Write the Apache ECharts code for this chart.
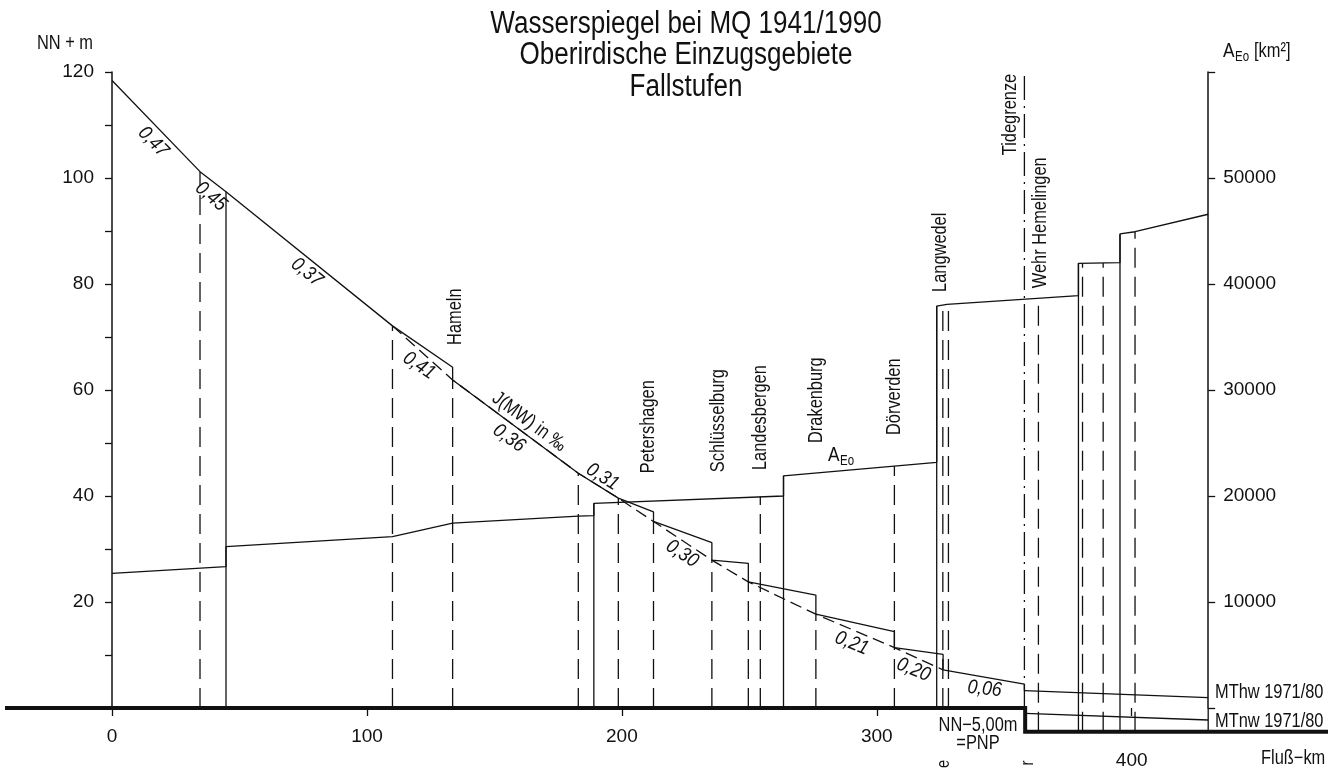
<!DOCTYPE html>
<html>
<head>
<meta charset="utf-8">
<title>Wasserspiegel bei MQ 1941/1990</title>
<script src="https://cdn.jsdelivr.net/npm/echarts@6/dist/echarts.min.js"></script>
<style>
  html, body { margin: 0; padding: 0; background: #fff; }
  #main { width: 1344px; height: 771px; }
</style>
</head>
<body>
<div id="main"></div>
<script>
// Flusslängsschnitt Weser: Wasserspiegel (NN + m) und Einzugsgebiet A_Eo (km²)

// Wasserspiegel bei MQ, mit Stufen an den Wehren (km / NN+m)
const mqKm = [0, 34.5, 44.7, 110.0, 133.6, 133.6, 182.9, 198.6, 212.4, 212.4, 235.3, 235.3, 249.6, 249.6, 276.1, 276.1, 306.9, 306.9, 326.0, 326.0, 357.9, 357.9];
const mqM  = [118.4, 101.2, 97.4, 72.1, 64.3, 61.9, 44.3, 39.6, 37.0, 35.2, 31.2, 27.9, 27.3, 23.8, 21.3, 17.7, 14.4, 11.4, 10.1, 7.2, 4.5, 3.26];

// mittleres Gefälle (gestrichelt) über die Wehrfußpunkte
const meanKm = [110.0, 133.6, 182.9, 198.6, 212.4, 235.3, 249.6, 276.1, 306.9, 326.0];
const meanM  = [72.1, 61.9, 44.3, 39.6, 35.2, 27.9, 23.8, 17.7, 11.4, 7.2];

// Tidebereich
const mthwKm = [357.9, 430];
const mthwM  = [3.26, 1.94];
const mtnwKm = [358.2, 430];
const mtnwM  = [-1.0, -2.26];

// Bezugslinie NN / PNP
const baseKm = [-42, 358.2, 358.2, 477];
const baseM  = [0, 0, -4.5, -4.5];

// oberirdisches Einzugsgebiet A_Eo (km²)
const aeoKm  = [0, 44.7, 44.7, 110.0, 133.6, 182.9, 189.0, 189.0, 263.4, 263.4, 323.5, 323.5, 327.5, 379.1, 379.1, 395.4, 395.4, 401.3, 430];
const aeoVal = [12700, 13330, 15220, 16160, 17450, 18110, 18140, 19310, 20000, 21890, 23180, 37920, 38080, 38900, 41950, 42010, 44720, 44930, 46580];

// senkrechte Linien (km, Oberkante NN+m)
const solidKm  = [44.7, 189.0, 263.4, 323.5, 379.1, 395.4, 430];
const solidTop = [97.4, 38.6, 43.8, 75.85, 83.9, 89.4, 0];
const dashKm   = [34.5, 110.0, 133.6, 182.9, 198.6, 212.4, 235.3, 249.6, 254.3, 276.1, 306.9, 325.9, 328.1, 363.4, 380.7, 388.8, 401.3];
const dashTop  = [101.2, 72.1, 61.9, 44.3, 39.6, 35.2, 27.9, 23.8, 39.9, 17.7, 45.66, 76.0, 76.2, 77.1, 83.9, 83.95, 89.9];
const tideKm   = [357.9];
const tideTop  = [120];

// Orte
const stationNames = ['Hameln', 'Petershagen', 'Schlüsselburg', 'Landesbergen', 'Drakenburg', 'Dörverden', 'Langwedel', 'Tidegrenze', 'Wehr Hemelingen'];
const stationKm    = [134.8, 210.5, 237.9, 254.2, 276.2, 306.8, 324.8, 352.5, 364.1];
const stationBase  = [68.5, 44.3, 44.5, 44.9, 50.0, 51.5, 78.5, 104.3, 79.2];

// Gefälle J(MW) in ‰
const slopeText  = ['0,47', '0,45', '0,37', '0,41', '0,36', '0,31', '0,30', '0,21', '0,20', '0,06'];
const slopeKm    = [16.1, 38.8, 76.4, 120.4, 155.7, 192.4, 223.6, 290.2, 314.4, 342.3];
const slopeM     = [106.8, 96.5, 82.2, 64.6, 50.9, 43.6, 29.1, 12.2, 7.2, 3.6];
const slopeAngle = [46, 40, 39, 34, 36, 32, 33, 22, 22, 6];

// Achsen
const xLabelsTop = [0, 100, 200, 300];
const xLabelsLow = [400];
const titleLines = ['Wasserspiegel bei MQ 1941/1990', 'Oberirdische Einzugsgebiete', 'Fallstufen'];

const FONT = "'Liberation Sans', Arial, sans-serif";
const NARROW = 0.82;
const ink = '#111';

const zip = (a, b) => a.map((v, i) => [v, b[i]]);

function vertData(kms, tops) {
  const d = [];
  kms.forEach((k, i) => {
    const bottom = k > 358.2 ? -4.5 : 0;
    d.push([k, bottom], [k, tops[i]], [k, '-']);
  });
  return d;
}

function lineSeries(name, data, style, extra) {
  return Object.assign({
    type: 'line',
    name: name,
    data: data,
    symbol: 'none',
    showSymbol: false,
    clip: false,
    silent: true,
    animation: false,
    lineStyle: Object.assign({ color: ink, width: 1.3 }, style)
  }, extra || {});
}

const chart = echarts.init(document.getElementById('main'));

const labelFont = { fontSize: 19, fontFamily: FONT, color: ink };

const option = {
  backgroundColor: '#fff',
  animation: false,
  grid: { left: 5, right: 16, top: 72, bottom: 63, containLabel: false },
  xAxis: [{
    type: 'value',
    min: -42,
    max: 477,
    axisLine: { show: false },
    splitLine: { show: false },
    axisTick: { show: true, length: 8, customValues: xLabelsTop, lineStyle: { color: ink, width: 1.3 } },
    axisLabel: Object.assign({ customValues: xLabelsTop, margin: 19 }, labelFont)
  }, {
    type: 'value',
    min: -42,
    max: 477,
    position: 'bottom',
    offset: 24,
    axisLine: { show: false },
    splitLine: { show: false },
    axisTick: { show: true, length: 8, customValues: xLabelsLow, lineStyle: { color: ink, width: 1.3 } },
    axisLabel: Object.assign({ customValues: xLabelsLow, margin: 19 }, labelFont)
  }],
  yAxis: [{
    type: 'value',
    position: 'left',
    offset: -107,
    min: 0,
    max: 120,
    interval: 10,
    axisLine: { show: true, onZero: false, lineStyle: { color: ink, width: 1.5 } },
    axisTick: { show: true, length: 7, lineStyle: { color: ink, width: 1.3 } },
    splitLine: { show: false },
    axisLabel: Object.assign({
      margin: 18,
      formatter: v => (v > 0 && v % 20 === 0) ? String(v) : ''
    }, labelFont)
  }, {
    type: 'value',
    position: 'right',
    offset: -119.8,
    min: 0,
    max: 60000,
    interval: 10000,
    axisLine: { show: true, onZero: false, lineStyle: { color: ink, width: 1.5 } },
    axisTick: { show: true, length: 7, lineStyle: { color: ink, width: 1.3 } },
    splitLine: { show: false },
    axisLabel: Object.assign({
      margin: 15,
      formatter: v => (v > 0 && v < 60000) ? String(v) : ''
    }, labelFont)
  }],
  series: [
    lineSeries('NN / PNP', zip(baseKm, baseM), { width: 4, join: 'miter', cap: 'butt' }),
    lineSeries('Wasserspiegel MQ', zip(mqKm, mqM), {}),
    lineSeries('Gefälle', zip(meanKm, meanM), { type: [12, 6] }),
    lineSeries('MThw 1971/80', zip(mthwKm, mthwM), {}),
    lineSeries('MTnw 1971/80', zip(mtnwKm, mtnwM), {}),
    lineSeries('A_Eo', zip(aeoKm, aeoVal), {}, { yAxisIndex: 1 }),
    lineSeries('Grenzen', vertData(solidKm, solidTop), {}),
    lineSeries('Pegel', vertData(dashKm, dashTop), { type: [20, 9] }),
    lineSeries('Tidegrenze', vertData(tideKm, tideTop), { type: [24, 6, 2, 6] })
  ]
};

chart.setOption(option);

// Beschriftungen an Datenpositionen
const px = (km, m) => chart.convertToPixel({ xAxisIndex: 0, yAxisIndex: 0 }, [km, m]);
const txt = (x, y, text, size, opts) => Object.assign({
  type: 'text',
  x: x,
  y: y,
  scaleX: NARROW,
  silent: true,
  style: Object.assign({
    text: text,
    fontFamily: FONT,
    fontSize: size,
    fill: ink,
    align: 'left',
    verticalAlign: 'middle'
  }, (opts && opts.style) || {})
}, (opts && opts.el) || {});

const graphics = [];

// Titel
const titleY = [24.2, 55.6, 87.0];
titleLines.forEach((t, i) => {
  graphics.push(txt(686, titleY[i], t, 31, { el: { scaleX: 0.84 }, style: { align: 'center' } }));
});

stationNames.forEach((name, i) => {
  const p = px(stationKm[i], stationBase[i]);
  graphics.push(txt(p[0], p[1], name, 20, { el: { rotation: Math.PI / 2 } }));
});

slopeText.forEach((t, i) => {
  const p = px(slopeKm[i], slopeM[i]);
  graphics.push(txt(p[0], p[1], t, 20, {
    el: { rotation: -slopeAngle[i] * Math.PI / 180, scaleX: 0.88 },
    style: { align: 'center', fontStyle: 'italic' }
  }));
});

// J(MW) in ‰ entlang der Wasserspiegellinie
const pj = px(163.6, 54.0);
graphics.push(txt(pj[0], pj[1], 'J(MW) in ‰', 20, {
  el: { rotation: -36.4 * Math.PI / 180 },
  style: { align: 'center' }
}));

// A_Eo an der Linie
const pa = px(280.9, 47.7);
graphics.push(txt(pa[0], pa[1], 'A', 21));
graphics.push(txt(pa[0] + 12, pa[1] + 6, 'Eo', 14));

// Achsbeschriftungen
graphics.push(txt(93, 43.5, 'NN + m', 20, { style: { align: 'right' } }));
graphics.push(txt(1223, 51.5, 'A', 21));
graphics.push(txt(1235, 57.5, 'Eo', 14));
graphics.push(txt(1254, 51.5, '[km²]', 20));
graphics.push(txt(1261, 758.5, 'Fluß−km', 20));
graphics.push(txt(1215, 692.5, 'MThw 1971/80', 20));
graphics.push(txt(1215, 721, 'MTnw 1971/80', 20));
graphics.push(txt(978, 725, 'NN−5,00m', 20, { style: { align: 'center' } }));
graphics.push(txt(978, 743.5, '=PNP', 20, { style: { align: 'center' } }));
graphics.push(txt(944.5, 764, 'e', 18, { el: { rotation: Math.PI / 2 }, style: { align: 'center' } }));
graphics.push(txt(1028, 763, 'r', 18, { el: { rotation: Math.PI / 2 }, style: { align: 'center' } }));

chart.setOption({ graphic: graphics });
</script>
</body>
</html>
